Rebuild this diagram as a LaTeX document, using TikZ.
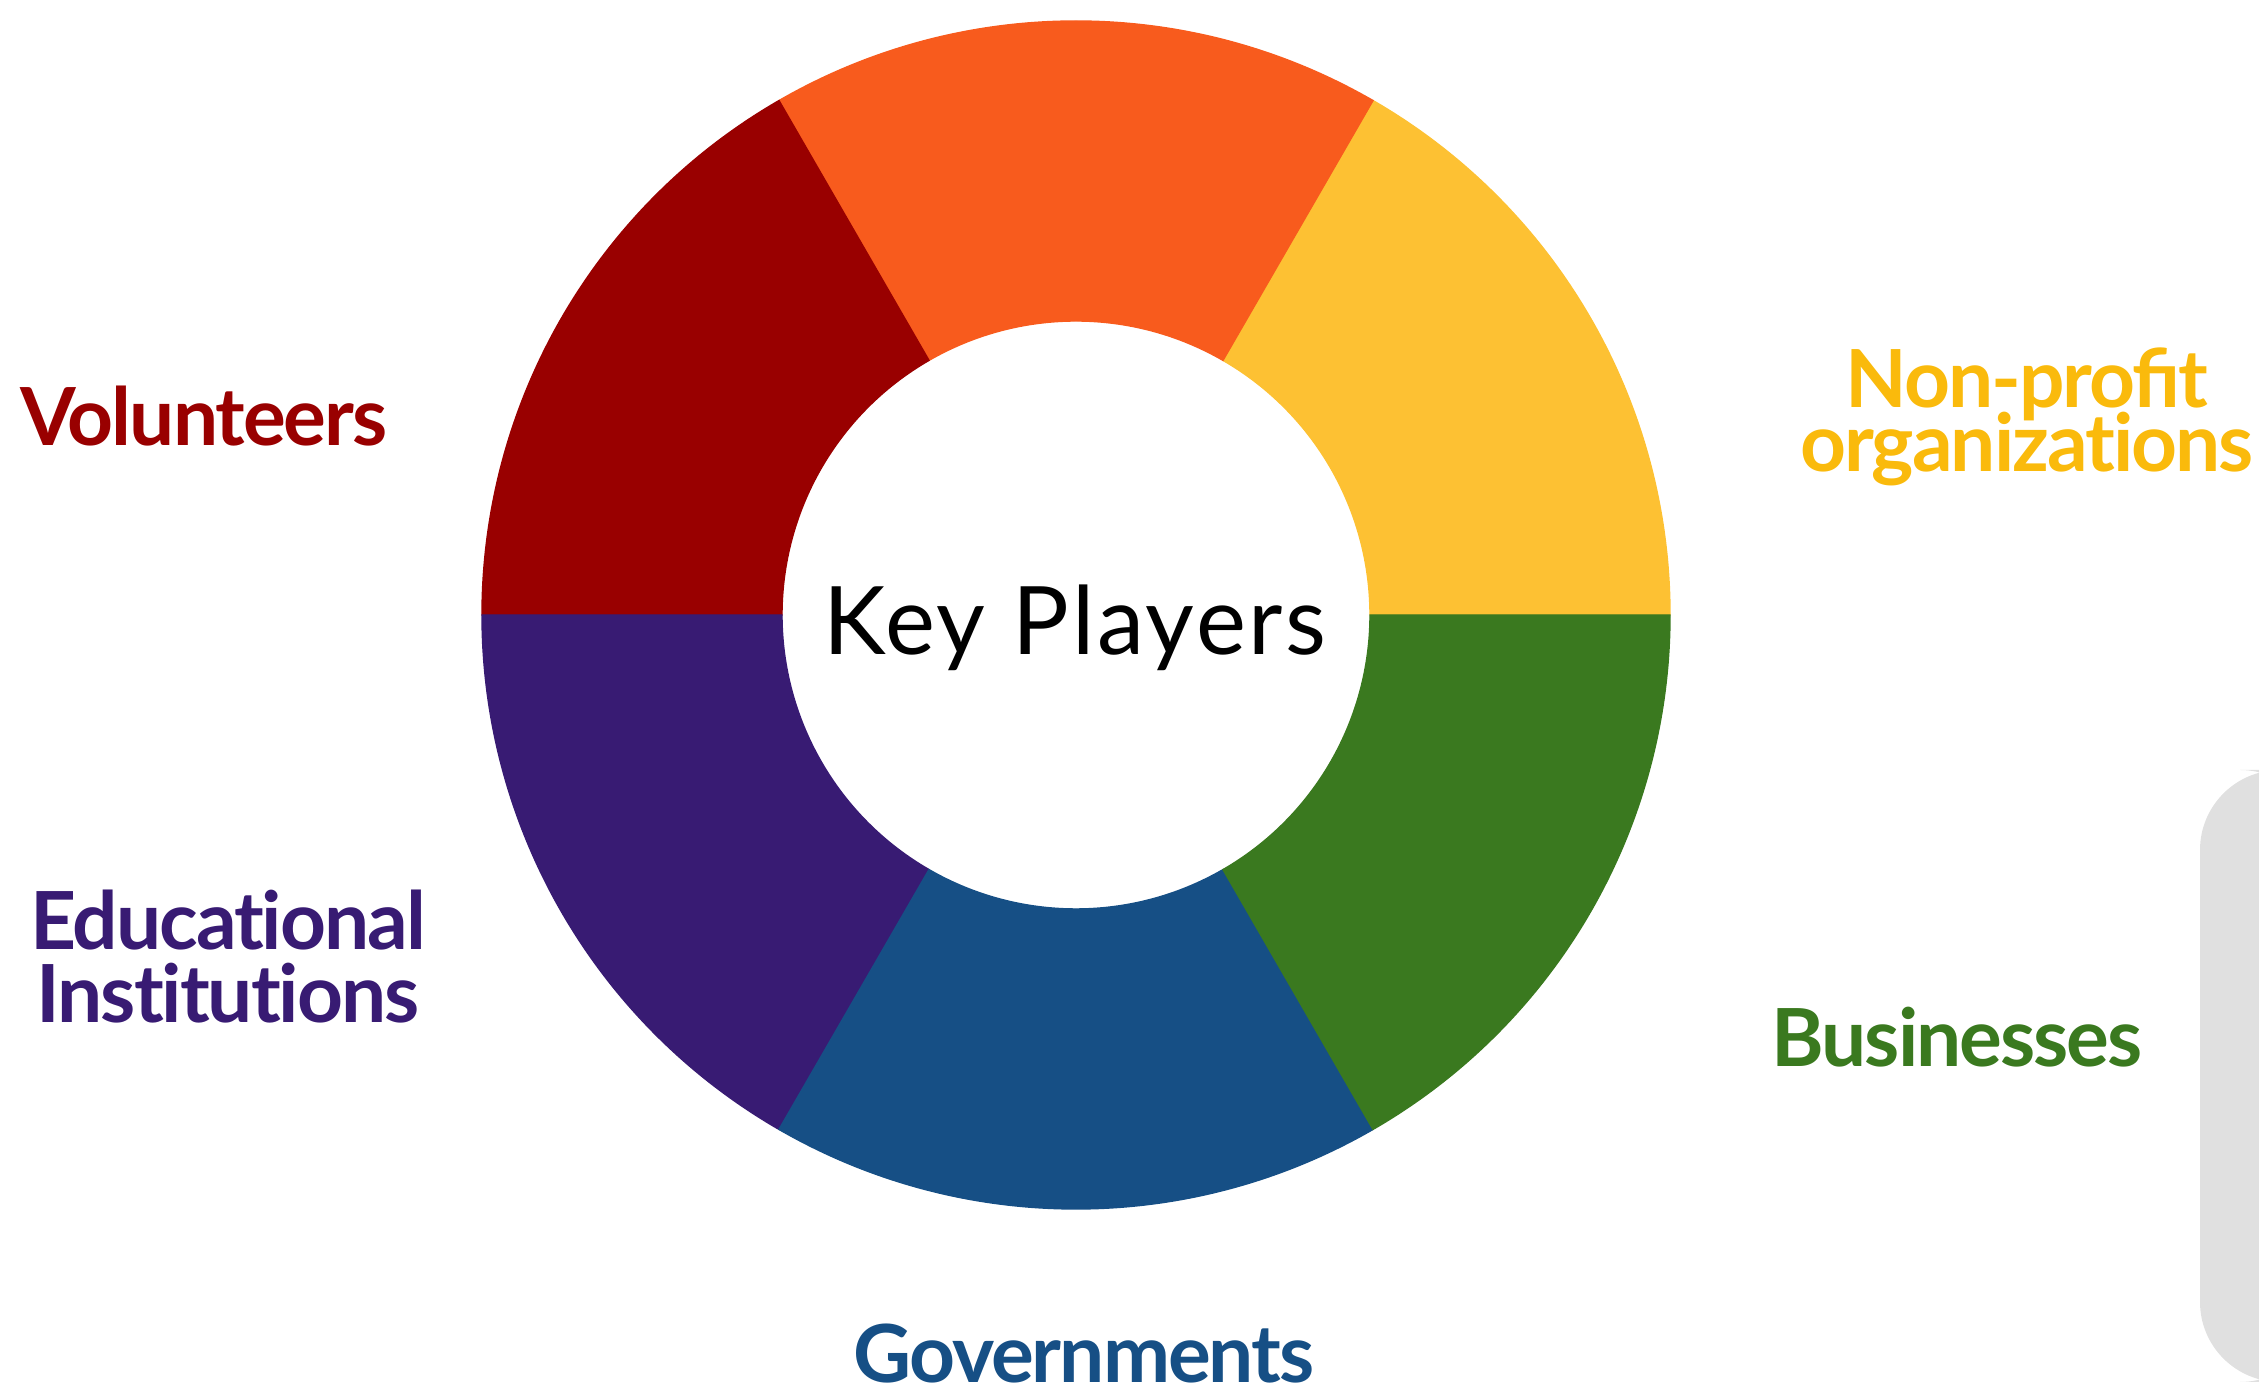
\documentclass[tikz,border=0pt]{standalone}
\usepackage{fontspec}
\setmainfont{Lato}[Ligatures=NoCommon]
\newfontfamily\playerfont{Lato}[Ligatures=NoCommon, LetterSpace=-2.5]
\newfontfamily\hubfont{Lato}[Ligatures=NoCommon, LetterSpace=3.0]
\usepackage{tikz}
\definecolor{kpred}{RGB}{153,0,0}
\definecolor{kporange}{RGB}{248,91,29}
\definecolor{kpyellow}{RGB}{253,193,51}
\definecolor{kpyellowtext}{RGB}{250,186,12}
\definecolor{kpgreen}{RGB}{58,121,31}
\definecolor{kpblue}{RGB}{22,79,133}
\definecolor{kppurple}{RGB}{56,27,115}
\definecolor{kppanel}{RGB}{224,224,224}
\newcommand{\ringout}{5.94}
\newcommand{\ringin}{2.94}
\newcommand{\tightlines}{\setlength{\lineskiplimit}{-100pt}}
\tikzset{
    segment/.style={line width=0.4pt},
    player/.style={
        inner sep=0pt, align=center, anchor=base,
        font=\playerfont\bfseries\fontsize{22.8pt}{18.3pt}\selectfont\tightlines
    },
    hub/.style={
        inner sep=0pt, anchor=base, text=black,
        font=\hubfont\fontsize{26.9pt}{32pt}\selectfont
    },
    panel/.style={fill=kppanel, rounded corners=0.8cm}
}

\begin{document}
\begin{tikzpicture}
    \clip (0,0) rectangle (22.59,14);
    \coordinate (c) at (10.76,7.85);

    % ring
    \filldraw[segment, kpyellow] ([shift={(0:\ringout)}]c) arc[start angle=0, end angle=60, radius=\ringout]
        -- ([shift={(60:\ringin)}]c) arc[start angle=60, end angle=0, radius=\ringin] -- cycle;
    \filldraw[segment, kporange] ([shift={(60:\ringout)}]c) arc[start angle=60, end angle=120, radius=\ringout]
        -- ([shift={(120:\ringin)}]c) arc[start angle=120, end angle=60, radius=\ringin] -- cycle;
    \filldraw[segment, kpred] ([shift={(120:\ringout)}]c) arc[start angle=120, end angle=180, radius=\ringout]
        -- ([shift={(180:\ringin)}]c) arc[start angle=180, end angle=120, radius=\ringin] -- cycle;
    \filldraw[segment, kppurple] ([shift={(180:\ringout)}]c) arc[start angle=180, end angle=240, radius=\ringout]
        -- ([shift={(240:\ringin)}]c) arc[start angle=240, end angle=180, radius=\ringin] -- cycle;
    \filldraw[segment, kpblue] ([shift={(240:\ringout)}]c) arc[start angle=240, end angle=300, radius=\ringout]
        -- ([shift={(300:\ringin)}]c) arc[start angle=300, end angle=240, radius=\ringin] -- cycle;
    \filldraw[segment, kpgreen] ([shift={(300:\ringout)}]c) arc[start angle=300, end angle=360, radius=\ringout]
        -- ([shift={(360:\ringin)}]c) arc[start angle=360, end angle=300, radius=\ringin] -- cycle;

    \node[hub] (title) at (10.75,7.45) {Key Players};

    % labels
    \node[player, text=kpred] (volunteers) at (2.04,9.54) {Volunteers};
    \node[player, text=kpyellowtext] (nonprofit) at (20.27,9.28) {Non-proﬁt\\organizations};
    \node[player, text=kppurple] (educational) at (2.28,3.77) {Educational\\[2.5pt]Institutions};
    \node[player, text=kpgreen] (businesses) at (19.57,3.33) {Businesses};
    \node[player, text=kpblue] (governments) at (10.84,0.17) {Governments};

    % side panel
    \fill[panel] (22.00,0.18) rectangle (23.20,6.30);
\end{tikzpicture}
\end{document}
